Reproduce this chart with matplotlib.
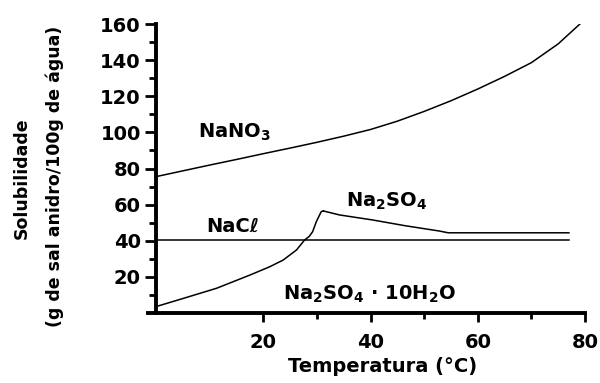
import matplotlib
matplotlib.use('Agg')
from matplotlib import pyplot as plt
import numpy as np

# values
temp_nano3 = [0, 5, 10, 15, 20, 25, 30, 35, 40, 45, 50, 55, 60, 65, 70, 75, 79.2]
sol_nano3 = [75.5, 78.7, 81.9, 85, 88.2, 91.3, 94.5, 97.9, 101.6, 106.2, 111.6, 117.5,
             124, 131, 138.6, 149, 160.4]

temp_nacl = [0, 77]
sol_nacl = [40.4, 40.4]

temp_deca = [0.4, 5.1, 11.3, 17.5, 21.2, 23.7, 26.2, 27.7, 28.6, 29.2, 29.9, 30.8, 31.2]
sol_deca = [3.9, 8.1, 13.7, 21, 25.6, 29.3, 34.9, 40.4, 42.5, 45, 50.6, 56.1, 56.5]

temp_anid = [31.2, 34.2, 40.4, 46.5, 52.8, 54.5, 77]
sol_anid = [56.5, 54.3, 51.5, 48.3, 45.4, 44.4, 44.4]

plt.rcParams['font.family'] = 'DejaVu Sans'
plt.rcParams['font.weight'] = 'bold'
plt.rcParams['mathtext.default'] = 'bf'

fig = plt.figure(figsize=(6, 3.83), dpi=100)
ax = fig.add_axes([148 / 600, 70 / 383, 437 / 600, 289 / 383])

lw = 1.1
ax.plot(temp_nano3, sol_nano3, color='black', lw=lw)
ax.plot(temp_nacl, sol_nacl, color='black', lw=lw)
ax.plot(temp_deca, sol_deca, color='black', lw=lw)
ax.plot(temp_anid, sol_anid, color='black', lw=lw)

ax.set_xlim(-1.5, 80)
ax.set_ylim(0, 160)
ax.spines['left'].set_position(('data', 0))
ax.spines['right'].set_visible(False)
ax.spines['top'].set_visible(False)
ax.spines['left'].set_linewidth(2.8)
ax.spines['bottom'].set_linewidth(2.8)

ax.set_xticks([20, 40, 60, 80])
ax.set_xticks([30, 50, 70], minor=True)
ax.set_yticks(np.arange(20, 161, 20))
ax.set_yticks(np.arange(10, 160, 20), minor=True)
ax.tick_params(axis='x', which='major', length=6.5, width=2, pad=8, labelsize=14)
ax.tick_params(axis='x', which='minor', length=4.5, width=2)
ax.tick_params(axis='y', which='major', length=8, width=2, pad=3, labelsize=14)
ax.tick_params(axis='y', which='minor', length=5, width=2)

fs = 14
ax.text(7.8, 97.3, 'NaNO$_3$', fontsize=fs, fontweight='bold', va='baseline')
ax.text(9.4, 44.7, 'NaCℓ', fontsize=fs, fontweight='bold', va='baseline')
ax.text(35.5, 58.9, 'Na$_2$SO$_4$', fontsize=fs, fontweight='bold', va='baseline')
ax.text(23.7, 7.6, 'Na$_2$SO$_4$ · 10H$_2$O', fontsize=fs, fontweight='bold', va='baseline')

fig.text(383 / 600, 1 - 366 / 383, 'Temperatura (°C)', fontsize=14, fontweight='bold',
         ha='center', va='center')
fig.text(22 / 600, 1 - 178 / 383, 'Solubilidade', fontsize=12.5, fontweight='bold',
         rotation=90, ha='center', va='center')
fig.text(55 / 600, 1 - 176 / 383, '(g de sal anidro/100g de água)', fontsize=12.5,
         fontweight='bold', rotation=90, ha='center', va='center')

fig.savefig('out.png', dpi=100)
